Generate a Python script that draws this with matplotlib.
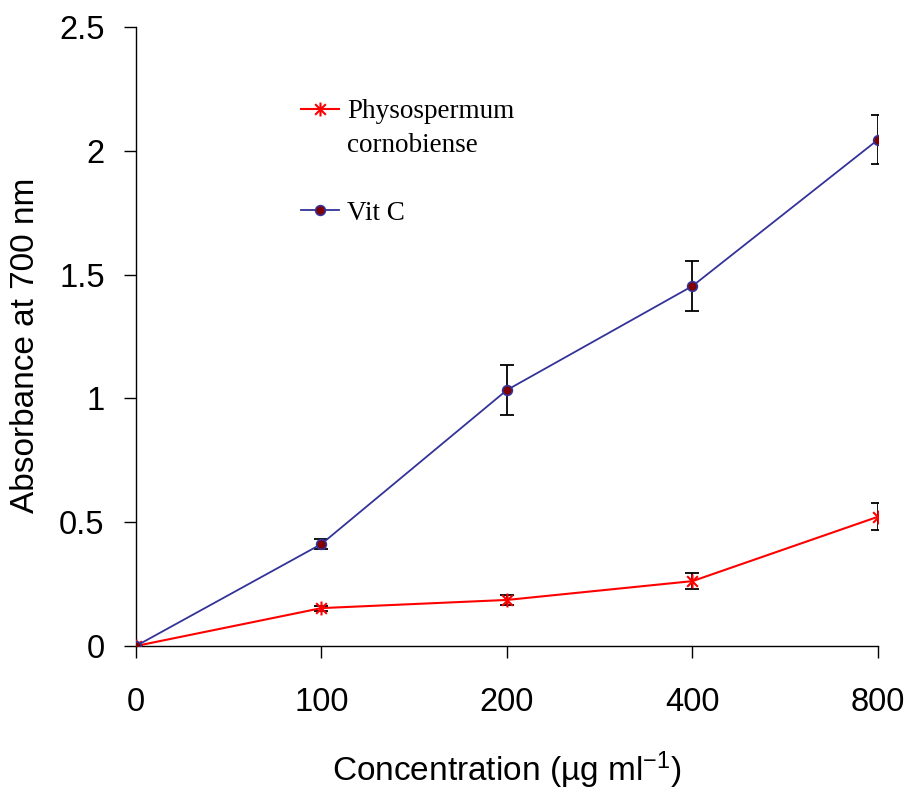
import numpy as np
import matplotlib
matplotlib.use("Agg")
import matplotlib.pyplot as plt
from matplotlib.path import Path
from matplotlib.lines import Line2D

plt.rcParams['font.family'] = ['Liberation Sans', 'DejaVu Sans']
plt.rcParams['mathtext.fontset'] = 'custom'
plt.rcParams['mathtext.rm'] = 'Liberation Sans'
plt.rcParams['mathtext.it'] = 'Liberation Sans:italic'

# data
conc_labels = ["0", "100", "200", "400", "800"]
physo_mean = [0.0, 0.153, 0.186, 0.262, 0.522]
physo_err = [0.0, 0.01, 0.02, 0.032, 0.055]
vitc_mean = [0.0, 0.412, 1.034, 1.454, 2.045]
vitc_err = [0.0, 0.02, 0.10, 0.10, 0.10]

x = np.arange(len(conc_labels))

# excel-style asterisk marker (x plus vertical bar)
star = Path([(-1, -1), (1, 1), (-1, 1), (1, -1), (0, -1.3), (0, 1.3)],
            [Path.MOVETO, Path.LINETO, Path.MOVETO, Path.LINETO, Path.MOVETO, Path.LINETO])

fig = plt.figure(figsize=(9.09, 7.9), dpi=100)
ax = fig.add_axes([0.1496, 0.1823, 0.9659 - 0.1496, 0.9658 - 0.1823])

ax.errorbar(x, vitc_mean, yerr=vitc_err, fmt='none', ecolor='black',
            elinewidth=1.3, capsize=5, capthick=1.3, zorder=2)
ax.errorbar(x, physo_mean, yerr=physo_err, fmt='none', ecolor='black',
            elinewidth=1.3, capsize=5, capthick=1.3, zorder=2)
ax.plot(x, physo_mean, color='#ff0000', lw=1.5, marker=star, ms=10,
        mec='#ff0000', mew=1.5, zorder=3)
ax.plot(x, vitc_mean, color='#333399', lw=1.3, marker='o', ms=7,
        mfc='#800000', mec='#333399', mew=1.2, zorder=3)

ax.set_xlim(0, 4)
ax.set_ylim(0, 2.5)
ax.set_xticks(x)
ax.set_xticklabels(conc_labels)
ax.set_yticks([0, 0.5, 1, 1.5, 2, 2.5])
ax.set_yticklabels(["0", "0.5", "1", "1.5", "2", "2.5"])
ax.spines['top'].set_visible(False)
ax.spines['right'].set_visible(False)
for s in ['left', 'bottom']:
    ax.spines[s].set_linewidth(1.0)
ax.tick_params(axis='y', direction='out', length=8.5, width=1.0, pad=14, labelsize=23.5)
ax.tick_params(axis='x', direction='out', length=8.5, width=1.0, pad=21, labelsize=23.5)

ax.set_xlabel(r'Concentration (µg ml$^{-1}$)', fontsize=24, labelpad=23)
ax.set_ylabel('Absorbance at 700 nm', fontsize=24)
ax.yaxis.set_label_coords(-0.128, 0.485)

handles = [
    Line2D([], [], color='#ff0000', lw=1.5, marker=star, ms=10, mec='#ff0000', mew=1.5),
    Line2D([], [], color='none'),
    Line2D([], [], color='none'),
    Line2D([], [], color='#333399', lw=1.3, marker='o', ms=7, mfc='#800000',
           mec='#333399', mew=1.2),
]
labels = ["Physospermum", "cornobiense", "", "Vit C"]
leg = ax.legend(handles, labels, loc='upper left', bbox_to_anchor=(301 / 909, 1 - 99 / 790),
                bbox_transform=fig.transFigure, frameon=False,
                prop={'family': 'Liberation Serif', 'size': 19.5},
                handlelength=1.4, handletextpad=0.3, labelspacing=0.33,
                borderaxespad=0, borderpad=0)

fig.savefig("out.png", dpi=100)
